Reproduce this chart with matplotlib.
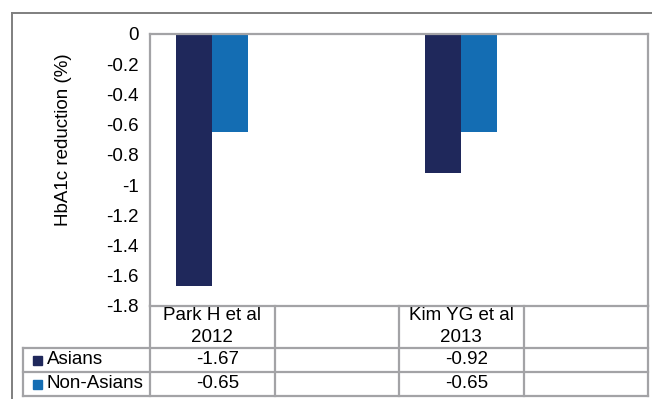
import numpy as np
import matplotlib
matplotlib.use("Agg")
import matplotlib.pyplot as plt
from matplotlib.lines import Line2D
from matplotlib.patches import Rectangle

plt.rcParams['font.family'] = ['Liberation Sans', 'DejaVu Sans']

# study columns of the data table (two of them are left empty)
categories = ['Park H et al\n2012', '', 'Kim YG et al\n2013', '']
series_names = ['Asians', 'Non-Asians']
asians = [-1.67, None, -0.92, None]
non_asians = [-0.65, None, -0.65, None]
yticks = [0, -0.2, -0.4, -0.6, -0.8, -1, -1.2, -1.4, -1.6, -1.8]

colors = ['#1f285b', '#146db3']
grid_col = '#a3a3a6'
fs = 13.5

W, H = 652, 399
fig = plt.figure(figsize=(W / 100, H / 100), dpi=100)


def fx(px):
    return px / W


def fy(py):
    return 1 - py / H


ax_l, ax_r, ax_t, ax_b = 150, 648, 34, 306
ax = fig.add_axes([fx(ax_l), fy(ax_b), fx(ax_r - ax_l), fy(ax_t) - fy(ax_b)])

x = np.arange(len(categories))
width = 0.29
for i, vals in enumerate([asians, non_asians]):
    xs = [x[k] for k, v in enumerate(vals) if v is not None]
    ys = [v for v in vals if v is not None]
    ax.bar(np.array(xs) + (i - 0.5) * width, ys, width, color=colors[i],
           zorder=2)

ax.set_xlim(-0.5, len(categories) - 0.5)
ax.set_ylim(-1.8, 0)
ax.set_yticks(yticks)
ax.set_yticklabels(['%g' % t for t in yticks], fontsize=fs)
ax.set_xticks([])
ax.tick_params(axis='y', length=0, pad=8)
for s in ax.spines.values():
    s.set_color(grid_col)
    s.set_linewidth(1.6)

fig.text(fx(64), fy(140), 'HbA1c reduction (%)', rotation=90,
         ha='center', va='center', fontsize=fs)

# data table under the axes
rows = [ax_b, 348, 372, 396]
tab_left = 23
col_w = (ax_r - ax_l) / len(categories)
col_edges = [ax_l + k * col_w for k in range(len(categories) + 1)]


def hline(py, x0, x1):
    fig.add_artist(Line2D([fx(x0), fx(x1)], [fy(py), fy(py)],
                          color=grid_col, lw=1.6))


def vline(px, y0, y1):
    fig.add_artist(Line2D([fx(px), fx(px)], [fy(y0), fy(y1)],
                          color=grid_col, lw=1.6))


for r in rows[1:]:
    hline(r, tab_left, ax_r)
vline(tab_left, rows[1], rows[-1])
for e in col_edges:
    vline(e, rows[0], rows[-1])

for k, cat in enumerate(categories):
    cx = (col_edges[k] + col_edges[k + 1]) / 2
    for j, line in enumerate(cat.split('\n')):
        if line:
            fig.text(fx(cx), fy(316 + 22 * j), line, ha='center',
                     va='center', fontsize=fs)

for i, (name, vals) in enumerate(zip(series_names, [asians, non_asians])):
    cy = (rows[i + 1] + rows[i + 2]) / 2
    fig.add_artist(Rectangle((fx(33), fy(cy + 4.5)), fx(9), fy(0) - fy(9),
                             color=colors[i]))
    fig.text(fx(47), fy(cy), name, ha='left', va='center', fontsize=fs)
    for k, v in enumerate(vals):
        if v is not None:
            cx = (col_edges[k] + col_edges[k + 1]) / 2 + 5
            fig.text(fx(cx), fy(cy), '%.2f' % v, ha='center', va='center',
                     fontsize=fs)

# outer chart frame
fig.add_artist(Line2D([fx(12), fx(652)], [fy(13), fy(13)], color='#7f7f7f',
                      lw=1.4))
fig.add_artist(Line2D([fx(12), fx(12)], [fy(13), fy(399)], color='#7f7f7f',
                      lw=1.4))

fig.savefig('out.png', dpi=100)
